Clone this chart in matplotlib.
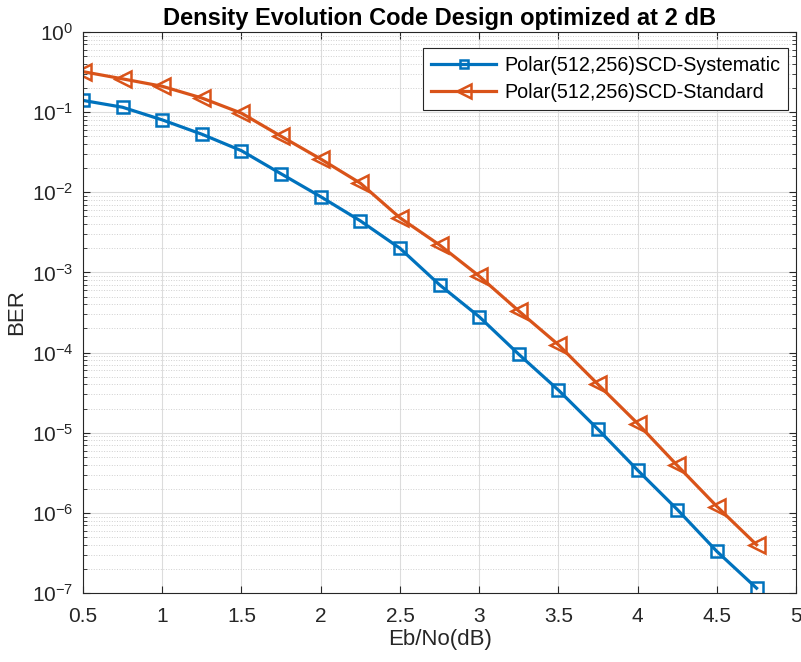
import matplotlib
matplotlib.use("Agg")
import matplotlib.pyplot as plt
from matplotlib.ticker import LogLocator, FixedLocator, NullFormatter, LogFormatterSciNotation

plt.rcParams['font.family'] = ['Liberation Sans', 'DejaVu Sans']
plt.rcParams['mathtext.fontset'] = 'custom'
plt.rcParams['mathtext.rm'] = 'Liberation Sans'

ebno = [0.5, 0.75, 1.0, 1.25, 1.5, 1.75, 2.0, 2.25, 2.5, 2.75, 3.0, 3.25,
        3.5, 3.75, 4.0, 4.25, 4.5, 4.75]
ber_systematic = [0.14, 0.115, 0.08, 0.053, 0.033, 0.017, 0.0088, 0.0044,
                  0.002, 7.0e-4, 2.8e-4, 9.5e-5, 3.4e-5, 1.1e-5, 3.4e-6,
                  1.1e-6, 3.3e-7, 1.15e-7]
ber_standard = [0.32, 0.26, 0.21, 0.15, 0.097, 0.05, 0.026, 0.013, 0.0048,
                0.0022, 9.0e-4, 3.3e-4, 1.25e-4, 4.0e-5, 1.3e-5, 3.9e-6,
                1.2e-6, 4.0e-7]
x_ticks = [0.5, 1, 1.5, 2, 2.5, 3, 3.5, 4, 4.5, 5]
x_tick_labels = ['0.5', '1', '1.5', '2', '2.5', '3', '3.5', '4', '4.5', '5']
y_ticks = [1e-7, 1e-6, 1e-5, 1e-4, 1e-3, 1e-2, 1e-1, 1e0]

W, H = 801, 662
fig = plt.figure(figsize=(W / 100, H / 100), dpi=100)
ax = fig.add_axes([0.1036, 0.1042, 0.8904, 0.8475])

ax.semilogy(ebno, ber_systematic, '-s', color='#0072BD', lw=2.3,
            markersize=8, markerfacecolor='none', markeredgewidth=1.8,
            label='Polar(512,256)SCD-Systematic')
ax.semilogy(ebno, ber_standard, '-<', color='#D95319', lw=2.3,
            markersize=12, markerfacecolor='none', markeredgewidth=1.8,
            label='Polar(512,256)SCD-Standard')

ax.set_xlim(0.5, 5)
ax.set_ylim(1e-7, 1)
ax.xaxis.set_major_locator(FixedLocator(x_ticks))
ax.set_xticklabels(x_tick_labels)
ax.yaxis.set_major_locator(FixedLocator(y_ticks))
ax.yaxis.set_major_formatter(LogFormatterSciNotation(base=10))
ax.yaxis.set_minor_locator(LogLocator(base=10, subs=range(2, 10), numticks=20))
ax.yaxis.set_minor_formatter(NullFormatter())

ax.grid(True, which='major', color='#dcdcdc', lw=0.8, ls='-')
ax.grid(True, which='minor', axis='y', color='#d0d0d0', lw=0.7, ls=':')
ax.set_axisbelow(True)

ax.tick_params(which='both', direction='in', top=True, right=True,
               labelsize=15, colors='#262626')
ax.tick_params(axis='x', which='major', pad=10)
ax.tick_params(axis='y', which='major', pad=7)
ax.tick_params(which='major', length=5)
ax.tick_params(which='minor', length=3)
for s in ax.spines.values():
    s.set_color('#262626')
    s.set_linewidth(0.8)

ax.set_xlabel('Eb/No(dB)', fontsize=16, color='#262626', labelpad=2)
ax.set_ylabel('BER', fontsize=16, color='#262626', labelpad=3)
ax.set_title('Density Evolution Code Design optimized at 2 dB',
             fontsize=17, fontweight='bold', pad=5)

leg = ax.legend(loc='upper right', bbox_to_anchor=(788 / W, 1 - 48 / H),
                bbox_transform=fig.transFigure, borderaxespad=0,
                fontsize=14.2, fancybox=False, framealpha=1,
                edgecolor='#262626', handlelength=3.3, handletextpad=0.4,
                labelspacing=0.4, borderpad=0.4, markerscale=0.8)
leg.get_frame().set_linewidth(0.8)

fig.savefig('out.png', dpi=100)
